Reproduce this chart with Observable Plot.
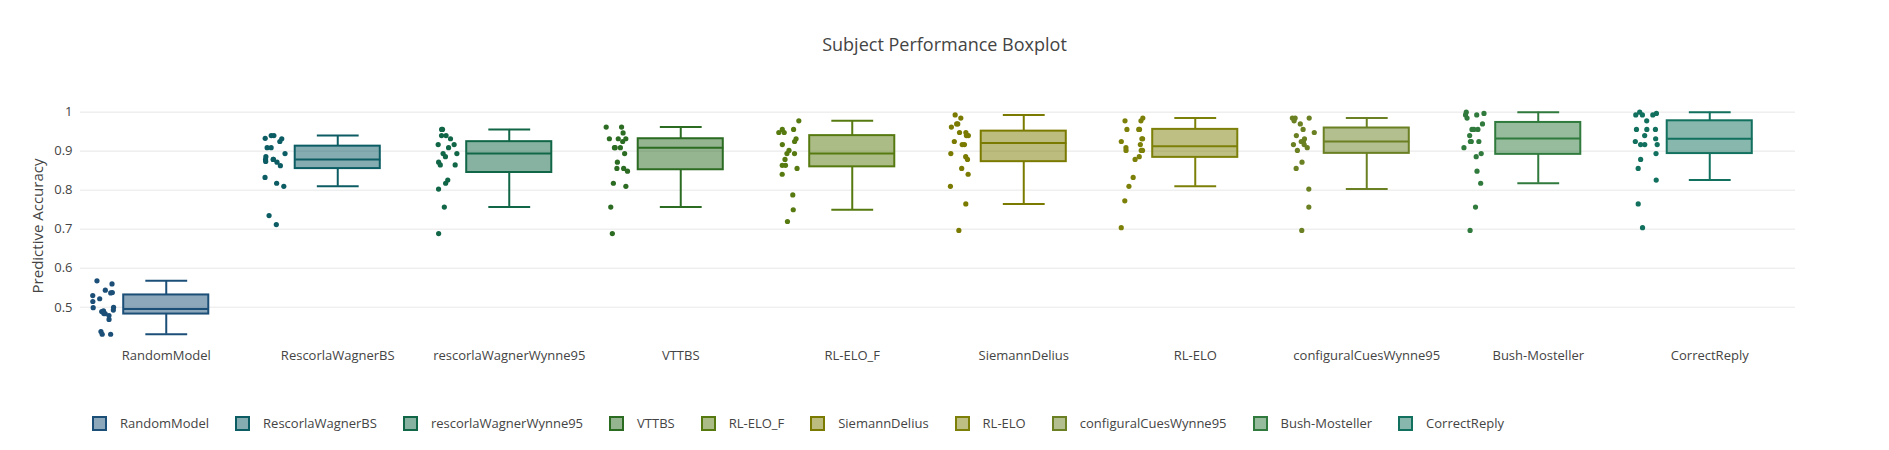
<!DOCTYPE html>
<html><head><meta charset="utf-8">
<script src="https://cdn.jsdelivr.net/npm/d3@7"></script>
<script src="https://cdn.jsdelivr.net/npm/@observablehq/plot@0.6"></script>
<style>
body{margin:0;background:#fff;font-family:"Open Sans",sans-serif;}
#wrap{position:relative;width:1889px;height:450px;}
#title{position:absolute;top:32px;left:0;width:1889px;text-align:center;font-size:18px;color:#444;}
#chart{position:absolute;top:0;left:0;}
#legend{position:absolute;top:414px;left:92px;display:flex;gap:0;font-size:13px;color:#444;}
.li{display:flex;align-items:center;margin-right:26px;}
.sw{width:11px;height:11px;border:2px solid;margin-right:13px;}
#ylab{position:absolute;left:37px;top:226px;transform:translate(-50%,-50%) rotate(-90deg);font-size:15px;color:#444;white-space:nowrap;}
</style></head><body>
<div id="wrap"><div id="chart"></div><div id="title">Subject Performance Boxplot</div><div id="ylab">Predictive Accuracy</div><div id="legend"></div></div>
<script>
const categories=["RandomModel","RescorlaWagnerBS","rescorlaWagnerWynne95","VTTBS","RL-ELO_F","SiemannDelius","RL-ELO","configuralCuesWynne95","Bush-Mosteller","CorrectReply"];
const colors=["#1b4f78","#0c5c64","#106646","#2b6b22","#577a10","#7a7a00","#7d8008","#6a8022","#2f7a3c","#12705e"];
const randomModel=[0.568,0.560,0.544,0.538,0.530,0.537,0.522,0.515,0.499,0.500,0.493,0.491,0.489,0.484,0.484,0.479,0.469,0.438,0.431,0.431];
const rescorlaWagnerBS=[0.940,0.940,0.933,0.925,0.932,0.909,0.909,0.894,0.886,0.879,0.879,0.879,0.874,0.872,0.863,0.833,0.818,0.810,0.735,0.712];
const rescorlaWagnerWynne95=[0.956,0.956,0.940,0.932,0.940,0.917,0.917,0.909,0.894,0.894,0.886,0.872,0.865,0.865,0.826,0.818,0.803,0.757,0.689];
const vttbs=[0.962,0.962,0.947,0.932,0.932,0.925,0.932,0.909,0.909,0.909,0.894,0.872,0.856,0.856,0.849,0.818,0.810,0.757,0.689];
const rlEloF=[0.978,0.956,0.956,0.948,0.948,0.932,0.925,0.917,0.902,0.894,0.894,0.879,0.864,0.864,0.856,0.841,0.788,0.750,0.720];
const siemannDelius=[0.993,0.985,0.970,0.962,0.970,0.948,0.948,0.940,0.940,0.925,0.917,0.917,0.894,0.886,0.879,0.856,0.841,0.810,0.765,0.697];
const rlElo=[0.985,0.978,0.978,0.956,0.956,0.956,0.932,0.932,0.925,0.917,0.909,0.902,0.902,0.902,0.886,0.879,0.833,0.810,0.773,0.704];
const configuralCuesWynne95=[0.985,0.985,0.985,0.978,0.970,0.956,0.948,0.940,0.932,0.925,0.925,0.917,0.917,0.909,0.902,0.872,0.856,0.803,0.757,0.697];
const bushMosteller=[1.0,0.997,0.993,0.993,0.985,0.970,0.956,0.956,0.956,0.940,0.925,0.925,0.925,0.909,0.894,0.886,0.849,0.818,0.757,0.697];
const correctReply=[1.0,0.997,0.993,0.993,0.993,0.978,0.956,0.956,0.956,0.940,0.932,0.925,0.917,0.917,0.917,0.894,0.879,0.856,0.826,0.765,0.704];
const yTicks=[0.5,0.6,0.7,0.8,0.9,1];
const series=[randomModel,rescorlaWagnerBS,rescorlaWagnerWynne95,vttbs,rlEloF,siemannDelius,rlElo,configuralCuesWynne95,bushMosteller,correctReply];

const rng=d3.randomLcg(7);
const points=[],stats=[];
series.forEach((vals,i)=>{
  vals.forEach(v=>points.push({i,v,j:(rng()-0.5)*0.13,c:categories[i]}));
  const s=vals.slice().sort(d3.ascending);
  const q1=d3.quantile(s,0.25),q3=d3.quantile(s,0.75),med=d3.median(s),iqr=q3-q1;
  const lo=d3.min(s.filter(v=>v>=q1-1.5*iqr)),hi=d3.max(s.filter(v=>v<=q3+1.5*iqr));
  stats.push({i,c:categories[i],q1,q3,med,lo,hi});
});
const col=Plot.scale({color:{domain:categories,range:colors}});
const chart=Plot.plot({
  width:1889,height:372,marginTop:100,marginBottom:32,marginLeft:80,marginRight:94,
  style:{fontFamily:"Open Sans",fontSize:"13px",color:"#444"},
  x:{domain:[-0.5,9.5],ticks:d3.range(10),tickFormat:i=>categories[i],tickSize:0,tickPadding:10,label:null},
  y:{domain:[0.415,1.03],ticks:yTicks,tickFormat:d3.format("~g"),tickSize:0,tickPadding:8,label:null,grid:true},
  color:{domain:categories,range:colors},
  marks:[
    Plot.ruleY(yTicks,{stroke:"#eee",strokeOpacity:1}),
    Plot.ruleX(stats,{x:"i",y1:"lo",y2:"q1",stroke:"c",strokeWidth:2}),
    Plot.ruleX(stats,{x:"i",y1:"q3",y2:"hi",stroke:"c",strokeWidth:2}),
    Plot.link(stats,{x1:d=>d.i-0.122,x2:d=>d.i+0.122,y1:"lo",y2:"lo",stroke:"c",strokeWidth:2}),
    Plot.link(stats,{x1:d=>d.i-0.122,x2:d=>d.i+0.122,y1:"hi",y2:"hi",stroke:"c",strokeWidth:2}),
    Plot.rect(stats,{x1:d=>d.i-0.248,x2:d=>d.i+0.248,y1:"q1",y2:"q3",fill:"c",fillOpacity:0.5,stroke:"c",strokeWidth:2}),
    Plot.link(stats,{x1:d=>d.i-0.248,x2:d=>d.i+0.248,y1:"med",y2:"med",stroke:"c",strokeWidth:2}),
    Plot.dot(points,{x:d=>d.i-0.37+d.j,y:"v",r:2.6,fill:"c",stroke:null})
  ]
});
document.getElementById("chart").appendChild(chart);
const lg=document.getElementById("legend");
categories.forEach((c,i)=>{
  const d=document.createElement("div");d.className="li";
  const s=document.createElement("div");s.className="sw";s.style.borderColor=colors[i];
  s.style.background=d3.color(colors[i]).copy({opacity:0.5}).toString();
  d.appendChild(s);d.appendChild(document.createTextNode(c));lg.appendChild(d);
});
</script></body></html>
